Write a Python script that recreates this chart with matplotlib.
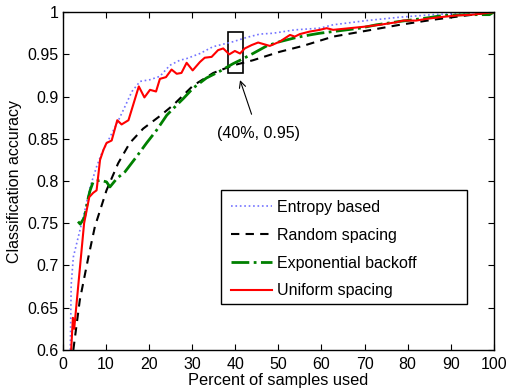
import numpy as np
import matplotlib
matplotlib.use("Agg")
import matplotlib.pyplot as plt
from matplotlib.patches import Rectangle

plt.rcParams['font.family'] = ['Liberation Sans', 'DejaVu Sans']

# percent of samples used / classification accuracy
entropy_x = [1.7, 1.9, 2.4, 5.1, 6.3, 7.8, 9.0, 10.9, 12.5, 14.0, 16.0, 17.9, 20.2, 22.5, 24.8,
             27.1, 28.7, 31.8, 34.8, 39.5, 42.6, 45.7, 48.8, 53.8, 59.6, 62.7, 70.5, 78.2,
             85.9, 89.8, 100]
entropy_y = [0.60, 0.677, 0.710, 0.766, 0.793, 0.817, 0.833, 0.852, 0.868, 0.884, 0.906, 0.918,
             0.920, 0.924, 0.937, 0.943, 0.945, 0.951, 0.959, 0.965, 0.970, 0.974, 0.975, 0.979,
             0.981, 0.985, 0.990, 0.994, 0.997, 0.998, 1.0]

random_x = [2.4, 3.9, 5.9, 7.4, 10.1, 12.8, 15.5, 18.6, 22.5, 25.6, 28.0, 30.2, 34.9, 39.5,
            44.1, 50.3, 55.7, 62.7, 70.5, 78.2, 85.9, 93.6, 100]
random_y = [0.60, 0.659, 0.710, 0.746, 0.789, 0.821, 0.845, 0.862, 0.877, 0.890, 0.902, 0.913,
            0.928, 0.937, 0.943, 0.953, 0.960, 0.971, 0.978, 0.985, 0.991, 0.996, 1.0]

expo_x = [3.5, 4.0, 5.0, 5.9, 6.3, 7.0, 8.6, 10.1, 10.9, 12.5, 14.4, 17.1, 19.4, 21.7, 24.1,
          26.4, 28.0, 30.2, 33.3, 36.4, 39.5, 41.1, 44.1, 47.3, 50.3, 54.2, 57.3, 59.6, 62.7,
          68.9, 72.8, 78.2, 84.4, 88.2, 93.6, 99.0, 100]
expo_y = [0.752, 0.749, 0.757, 0.781, 0.789, 0.799, 0.801, 0.799, 0.793, 0.803, 0.811, 0.829,
          0.845, 0.860, 0.878, 0.890, 0.898, 0.910, 0.922, 0.930, 0.939, 0.943, 0.951, 0.960,
          0.965, 0.970, 0.973, 0.975, 0.977, 0.981, 0.985, 0.989, 0.993, 0.996, 0.997, 0.997, 1.0]

uniform_x = [1.9, 2.3, 2.6, 4.9, 6.1, 7.0, 7.8, 8.6, 9.4, 10.1, 11.3, 12.6, 13.6, 15.2, 17.6,
             18.9, 20.2, 21.6, 22.5, 23.9, 25.2, 26.4, 27.5, 28.7, 30.1, 31.8, 32.9, 34.5, 36.0,
             37.2, 38.6, 39.9, 41.1, 42.2, 43.8, 45.3, 48.0, 50.3, 52.7, 53.8, 55.0, 57.3, 59.6,
             61.2, 62.7, 66.6, 70.5, 73.5, 77.4, 79.0, 82.0, 84.4, 87.5, 91.3, 95.1, 100]
uniform_y = [0.60, 0.638, 0.625, 0.750, 0.781, 0.786, 0.789, 0.825, 0.837, 0.845, 0.848, 0.872,
             0.867, 0.872, 0.912, 0.899, 0.908, 0.906, 0.921, 0.923, 0.932, 0.927, 0.928, 0.940,
             0.931, 0.941, 0.946, 0.947, 0.955, 0.957, 0.950, 0.954, 0.951, 0.957, 0.961, 0.964,
             0.960, 0.965, 0.973, 0.971, 0.974, 0.977, 0.979, 0.981, 0.979, 0.981, 0.983, 0.985,
             0.988, 0.990, 0.990, 0.992, 0.994, 0.996, 0.997, 1.0]

fig = plt.figure(figsize=(5.08, 3.91), dpi=100)
ax = fig.add_axes([0.124, 0.105, 0.848, 0.864])

ax.plot(entropy_x, entropy_y, ':', color=(0.45, 0.45, 1.0), lw=1.2, label='Entropy based')
ax.plot(random_x, random_y, '--', color='black', lw=1.5, dashes=(4, 3), label='Random spacing')
ax.plot(expo_x, expo_y, '-.', color=(0, 0.5, 0), lw=2.0, label='Exponential backoff')
ax.plot(uniform_x, uniform_y, '-', color='red', lw=1.5, label='Uniform spacing')

# zoom box + annotation
ax.add_patch(Rectangle((38.4, 0.9275), 3.4, 0.049, fill=False, ec='black', lw=1.2))
ax.annotate('(40%, 0.95)', xy=(41.1, 0.9195), xytext=(45.3, 0.856),
            ha='center', va='center', fontsize=11.5,
            arrowprops=dict(arrowstyle='->', color='black', lw=0.8, shrinkB=0, shrinkA=7))

ax.set_xlim(0, 100)
ax.set_ylim(0.6, 1.0)
ax.set_xticks(np.arange(0, 101, 10))
ax.set_yticks(np.arange(0.6, 1.001, 0.05))
ax.set_yticklabels(['0.6', '0.65', '0.7', '0.75', '0.8', '0.85', '0.9', '0.95', '1'])
ax.tick_params(direction='in', top=True, right=True, length=4, labelsize=11.5)
ax.tick_params(axis='x', pad=5)
ax.tick_params(axis='y', pad=3)
for s in ax.spines.values():
    s.set_linewidth(1.0)

ax.set_xlabel('Percent of samples used', fontsize=11.8, labelpad=1)
ax.set_ylabel('Classification accuracy', fontsize=11.5, labelpad=4)

# legend box is wider than the entries (matlab style), so draw the frame separately
ax.add_patch(Rectangle((0.3666, 0.136), 0.5708, 0.337, transform=ax.transAxes,
                       fill=True, fc='white', ec='black', lw=1.0, zorder=4))
leg = ax.legend(loc='upper left', bbox_to_anchor=(0.3666, 0.473), fontsize=11.5, frameon=False,
                handlelength=2.6, handletextpad=0.3, labelspacing=0.8, borderpad=0.62,
                borderaxespad=0.0)
leg.set_zorder(5)

fig.savefig('out.png', dpi=100)
